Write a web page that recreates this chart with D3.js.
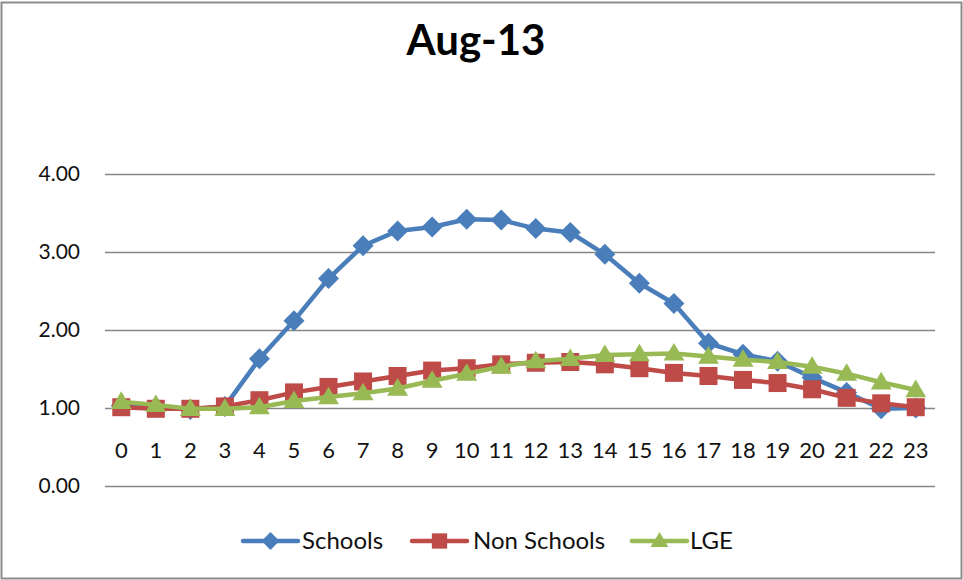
<!DOCTYPE html>
<html><head><meta charset="utf-8">
<script src="https://cdn.jsdelivr.net/npm/d3@7"></script>
<style>body{margin:0;background:#fff}svg{display:block}</style>
</head><body>
<script>
const title = "Aug-13";
const hours = ["0","1","2","3","4","5","6","7","8","9","10","11","12","13","14","15","16","17","18","19","20","21","22","23"];
const schools = [1.03,1.01,0.98,1.02,1.63,2.12,2.66,3.08,3.27,3.32,3.42,3.41,3.30,3.25,2.97,2.60,2.34,1.83,1.69,1.60,1.39,1.20,0.99,1.00];
const nonSchools = [1.01,0.99,0.99,1.02,1.10,1.20,1.27,1.34,1.41,1.48,1.51,1.56,1.58,1.59,1.56,1.51,1.45,1.41,1.36,1.32,1.24,1.13,1.06,1.01];
const lge = [1.08,1.04,0.99,0.99,1.01,1.09,1.14,1.19,1.25,1.35,1.44,1.53,1.60,1.63,1.68,1.69,1.70,1.66,1.62,1.59,1.53,1.44,1.33,1.23];
const yTicks = [0,1,2,3,4];
const seriesNames = ["Schools","Non Schools","LGE"];
const colors = ["#4A7EBB","#BE4B48","#98B954"];

// custom marker shapes (centered at 0,0)
const markerPath = [
  r => `M0,${-r}L${r},0L0,${r}L${-r},0Z`,                        // diamond
  r => `M${-r},${-r}H${r}V${r}H${-r}Z`,                            // square
  r => `M0,${-r*1.1}L${r*1.1},${r*0.75}H${-r*1.1}Z`                 // triangle
];
const markerR = [10.5, 9, 9.5];

const W = 963, H = 580;
const svg = d3.select("body").append("svg").attr("width", W).attr("height", H);
svg.append("rect").attr("x",1.5).attr("y",2.5).attr("width",W-3).attr("height",H-4)
  .attr("fill","#fff").attr("stroke","#8c8c8c").attr("stroke-width",2);

const font = "Lato, 'Open Sans', sans-serif";
svg.append("text").attr("x",476).attr("y",55).attr("text-anchor","middle")
  .attr("font-family",font).attr("font-weight","bold").attr("font-size",42)
  .attr("fill","#000").text(title);

const x = d3.scaleBand().domain(hours).range([104, 933]);
const y = d3.scaleLinear().domain([0,4]).range([486, 174]);

const g = svg.append("g");
g.selectAll("line.grid").data(yTicks).join("line").attr("class","grid")
  .attr("x1",105).attr("x2",935).attr("y1",d=>Math.round(y(d))+0.5).attr("y2",d=>Math.round(y(d))+0.5)
  .attr("stroke","#868686").attr("stroke-width",1.3);

const yAxis = g.append("g").attr("transform","translate(80,0)")
  .call(d3.axisLeft(y).tickValues(yTicks).tickFormat(d3.format(".2f")).tickSize(0).tickPadding(0));
yAxis.select(".domain").remove();
yAxis.selectAll("text").attr("font-family",font).attr("font-size",21).attr("fill","#111");

const xAxis = g.append("g").attr("transform","translate(0,440)")
  .call(d3.axisBottom(x).tickSize(0).tickPadding(0));
xAxis.select(".domain").remove();
xAxis.selectAll("text").attr("font-family",font).attr("font-size",22).attr("fill","#111")
  .attr("dy","0.8em");

const data = [schools, nonSchools, lge];
const cx = i => x(hours[i]) + x.bandwidth()/2;
const line = d3.line().x((d,i)=>cx(i)).y(d=>y(d));
[0,1,2].forEach(si => {
  const s = data[si];
  g.append("path").datum(s).attr("d",line).attr("fill","none")
    .attr("stroke",colors[si]).attr("stroke-width",4.5).attr("stroke-linejoin","round");
  g.selectAll("path.m"+si).data(s).join("path").attr("class","m"+si)
    .attr("d", markerPath[si](markerR[si]))
    .attr("transform",(d,i)=>`translate(${cx(i)},${y(d)})`)
    .attr("fill",colors[si]);
});

const legendItems = [{lx:243, tx:302},{lx:412, tx:473},{lx:632, tx:690}];
const ly = 541;
legendItems.forEach((it,i) => {
  svg.append("line").attr("x1",it.lx).attr("x2",it.lx+55).attr("y1",ly).attr("y2",ly)
    .attr("stroke",colors[i]).attr("stroke-width",4.5).attr("stroke-linecap","round");
  svg.append("path").attr("d",markerPath[i](markerR[i]*0.85))
    .attr("transform",`translate(${it.lx+27.5},${ly})`).attr("fill",colors[i]);
  svg.append("text").attr("x",it.tx).attr("y",ly+8).attr("font-family",font)
    .attr("font-size",24).attr("fill","#111").text(seriesNames[i]);
});
</script>
</body></html>
